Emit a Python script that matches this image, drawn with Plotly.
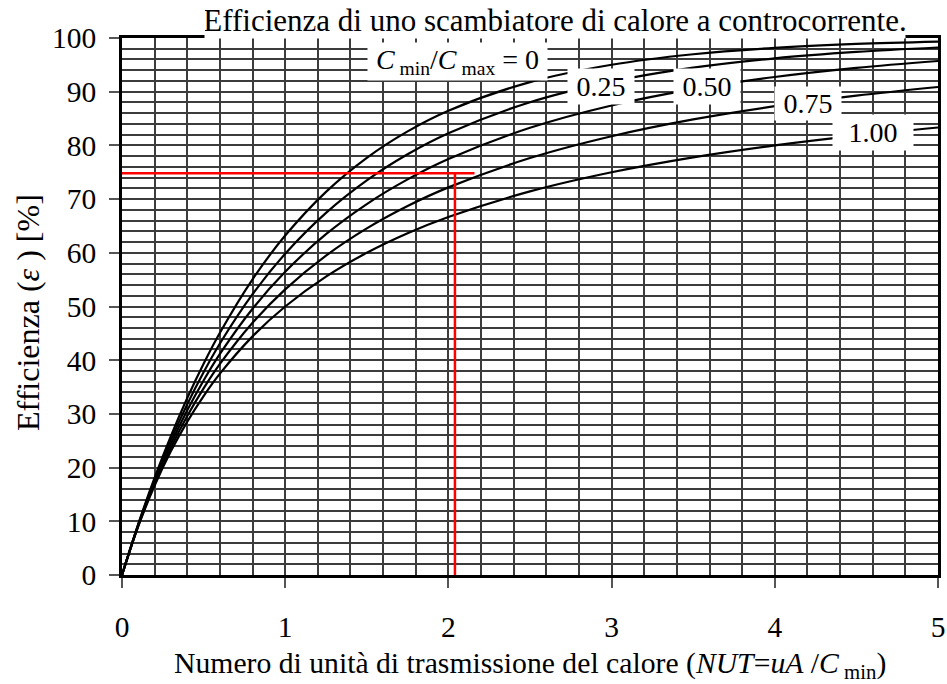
import plotly.graph_objects as go

# ---- data ----
nut = [0, 0.1, 0.2, 0.3, 0.4, 0.5, 0.6, 0.8, 1.0, 1.25, 1.5, 1.75, 2.0, 2.5, 3.0, 3.5, 4.0, 4.5, 5.0]
eff_c000 = [0, 9.52, 18.13, 25.92, 32.97, 39.35, 45.12, 55.07, 63.21, 71.35, 77.69, 82.62, 86.47, 91.79, 95.02, 96.98, 98.17, 98.89, 99.33]
eff_c025 = [0, 9.41, 17.75, 25.17, 31.81, 37.76, 43.11, 52.29, 59.83, 67.44, 73.50, 78.36, 82.28, 88.04, 91.88, 94.47, 96.22, 97.41, 98.23]
eff_c050 = [0, 9.30, 17.38, 24.45, 30.69, 36.23, 41.17, 49.59, 56.47, 63.46, 69.08, 73.67, 77.46, 83.28, 87.44, 90.48, 92.74, 94.44, 95.72]
eff_c075 = [0, 9.19, 17.02, 23.75, 29.61, 34.75, 39.30, 46.97, 53.19, 59.47, 64.54, 68.71, 72.18, 77.64, 81.71, 84.84, 87.30, 89.27, 90.88]
eff_c100 = [0, 9.09, 16.67, 23.08, 28.57, 33.33, 37.50, 44.44, 50.00, 55.56, 60.00, 63.64, 66.67, 71.43, 75.00, 77.78, 80.00, 81.82, 83.33]

curve_labels = ["<i>C</i><sub> min</sub>/<i>C</i><sub> max</sub> = 0", "0.25", "0.50", "0.75", "1.00"]

red_h_x = [-0.04, 2.16]
red_h_y = [74.8, 74.8]
red_v_x = [2.04, 2.04]
red_v_y = [74.8, 0]

x_tick_vals = [0, 1, 2, 3, 4, 5]
x_tick_text = ["0", "1", "2", "3", "4", "5"]
y_tick_vals = [0, 10, 20, 30, 40, 50, 60, 70, 80, 90, 100]
y_tick_text = ["0", "10", "20", "30", "40", "50", "60", "70", "80", "90", "100"]

title_text = "Efficienza di uno scambiatore di calore a controcorrente."
x_title = "Numero di unità di trasmissione del calore (<i>NUT</i>=<i>uA</i> /<i>C</i><sub> min</sub>)"
y_title = "Efficienza (<i>ε</i> ) [%]"

FONT = "Liberation Serif, Times New Roman, serif"

fig = go.Figure()
for ys in [eff_c000, eff_c025, eff_c050, eff_c075, eff_c100]:
    fig.add_trace(go.Scatter(x=nut, y=ys, mode="lines",
                             line=dict(color="black", width=2.2, shape="spline"),
                             hoverinfo="skip"))

fig.add_trace(go.Scatter(x=red_h_x, y=red_h_y, mode="lines", cliponaxis=False,
                         line=dict(color="#ff0000", width=2.5)))
fig.add_trace(go.Scatter(x=red_v_x, y=red_v_y, mode="lines",
                         line=dict(color="#ff0000", width=2.5)))

# title with white background covering the top frame
fig.add_annotation(x=0.5306, y=1.0335, xref="paper", yref="paper", text=title_text,
                   xanchor="center", yanchor="middle",
                   showarrow=False, bgcolor="white", width=700, borderpad=0,
                   font=dict(family=FONT, size=31, color="black"))

# label boxes (white background hides grid and curves)
label_pos = [(2.058, 95.6, 177, 1), (2.932, 90.9, 62, 2), (3.587, 90.9, 62, 2),
             (4.203, 87.8, 64, 1), (4.601, 82.4, 76, 2)]
for txt, (lx, ly, w, pad) in zip(curve_labels, label_pos):
    fig.add_annotation(x=lx, y=ly, xref="x", yref="y", text=txt, showarrow=False,
                       xanchor="center", yanchor="middle",
                       bgcolor="white", width=w, borderpad=pad,
                       font=dict(family=FONT, size=28, color="black"))

fig.add_annotation(x=0.5, y=-0.1676, xref="paper", yref="paper", text=x_title,
                   xanchor="center", yanchor="middle",
                   showarrow=False, font=dict(family=FONT, size=29.7, color="black"))
fig.add_annotation(x=-0.1152, y=0.4898, xref="paper", yref="paper", text=y_title,
                   xanchor="center", yanchor="middle",
                   textangle=-90, showarrow=False, font=dict(family=FONT, size=32, color="black"))

grid_col = "#3c3c3c"
fig.update_xaxes(range=[0, 5], tickmode="array", tickvals=x_tick_vals, ticktext=x_tick_text,
                 ticks="outside", ticklen=10, tickwidth=2, tickcolor="#555",
                 ticklabelstandoff=14, automargin=False,
                 showgrid=True, gridcolor=grid_col, gridwidth=1.6,
                 minor=dict(tickmode="linear", tick0=0, dtick=0.2, showgrid=True,
                            gridcolor=grid_col, gridwidth=1.6, ticks=""),
                 showline=True, linecolor="black", linewidth=2.5, mirror=True,
                 zeroline=False, tickfont=dict(family=FONT, size=29.5, color="black"))
fig.update_yaxes(range=[0, 100], tickmode="array", tickvals=y_tick_vals, ticktext=y_tick_text,
                 ticks="outside", ticklen=10, tickwidth=2, tickcolor="#555",
                 ticklabelstandoff=7, automargin=False,
                 showgrid=True, gridcolor=grid_col, gridwidth=1.6,
                 minor=dict(tickmode="linear", tick0=0, dtick=2, showgrid=True,
                            gridcolor=grid_col, gridwidth=1.6, ticks=""),
                 showline=True, linecolor="black", linewidth=2.5, mirror=True,
                 zeroline=False, tickfont=dict(family=FONT, size=29.5, color="black"))

fig.update_layout(width=947, height=684, margin=dict(l=122, r=9, t=38, b=109),
                  plot_bgcolor="white", paper_bgcolor="white", showlegend=False,
                  font=dict(family=FONT, color="black"))

fig.write_html("out.html", config={"displayModeBar": False},
               post_script="document.body.style.margin='0';document.body.style.overflow='hidden';")
